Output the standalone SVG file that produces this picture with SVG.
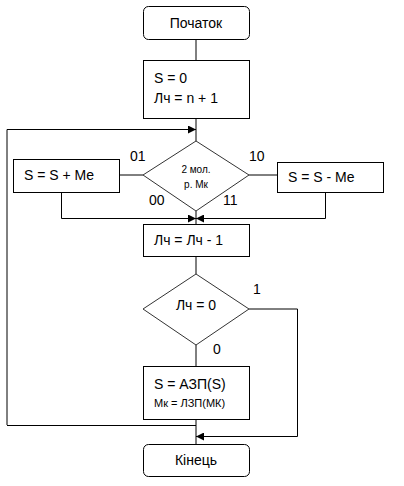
<svg xmlns="http://www.w3.org/2000/svg" width="404" height="486" viewBox="0 0 404 486">
<style>
.b{fill:#fff;stroke:#000;stroke-width:1}
.d{fill:#fff;stroke:#333;stroke-width:1}
.l{fill:none;stroke:#000;stroke-width:1}
text{font-family:"Liberation Sans",Arial,sans-serif;font-size:14px;fill:#000}
.c{text-anchor:middle}
.s{font-size:10px}
.m{font-size:11px}
</style>
<defs>
<marker id="a" viewBox="0 0 10 10" refX="10" refY="5" markerWidth="8" markerHeight="8" markerUnits="userSpaceOnUse" orient="auto">
<path d="M0,0L10,5L0,10z" fill="#000"/>
</marker>
</defs>
<rect width="404" height="486" fill="#fff"/>
<g id="connectors">
<path class="l" d="M196,39V60"/>
<path class="l" d="M196,118V141"/>
<path class="l" d="M7,425V129.5H196" marker-end="url(#a)"/>
<path class="l" d="M143,175H119"/>
<path class="l" d="M249,175H277"/>
<path class="l" d="M61.5,192V218.5H196" marker-end="url(#a)"/>
<path class="l" d="M325.5,192V218.5H196" marker-end="url(#a)"/>
<path class="l" d="M196,211V224"/>
<path class="l" d="M196,256V274"/>
<path class="l" d="M196,345V366"/>
<path class="l" d="M249,309H297.5V436.5H196" marker-end="url(#a)"/>
<path class="l" d="M196,419V444"/>
<path class="l" d="M7,425.5H196"/>
</g>
<g id="start">
<rect class="b" x="143.5" y="6.5" width="106" height="33" rx="5"/>
<text class="c" x="196" y="28">Початок</text>
</g>
<g id="init">
<rect class="b" x="143.5" y="60.5" width="106" height="58"/>
<text x="154" y="83">S = 0</text>
<text x="154" y="103">Лч = n + 1</text>
</g>
<g id="decision1">
<path class="d" d="M196,141L249,175L196,211L143,175z"/>
<text class="c s" x="196" y="173">2 мол.</text>
<text class="c s" x="196" y="188">р. Мк</text>
</g>
<g id="add">
<rect class="b" x="13.5" y="159.5" width="106" height="33"/>
<text x="24" y="180">S = S + Me</text>
</g>
<g id="sub">
<rect class="b" x="277.5" y="162.5" width="106" height="30"/>
<text x="288" y="182">S = S - Me</text>
</g>
<g id="labels">
<text x="130" y="161">01</text>
<text x="249" y="161">10</text>
<text x="149" y="205">00</text>
<text x="223" y="205">11</text>
<text x="253" y="294">1</text>
<text x="213" y="354">0</text>
</g>
<g id="dec">
<rect class="b" x="143.5" y="224.5" width="106" height="32"/>
<text x="154" y="245">Лч = Лч - 1</text>
</g>
<g id="decision2">
<path class="d" d="M196,274L249,309L196,345L143,309z"/>
<text class="c" x="196" y="310">Лч = 0</text>
</g>
<g id="shift">
<rect class="b" x="143.5" y="366.5" width="106" height="53"/>
<text x="154" y="389">S = АЗП(S)</text>
<text class="m" x="154" y="407">Мк = ЛЗП(МК)</text>
</g>
<g id="end">
<rect class="b" x="143.5" y="444.5" width="106" height="32" rx="5"/>
<text class="c" x="196" y="465">Кінець</text>
</g>
</svg>
